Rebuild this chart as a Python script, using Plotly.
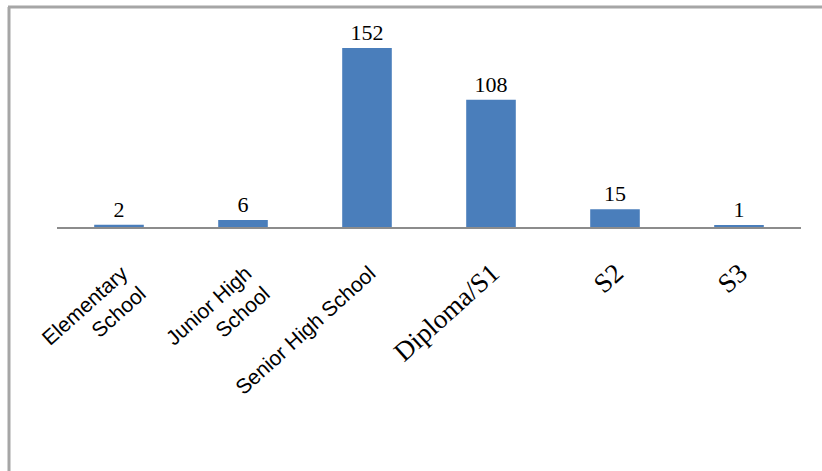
import plotly.graph_objects as go

categories = ["Elementary School", "Junior High School", "Senior High School", "Diploma/S1", "S2", "S3"]
values = [2, 6, 152, 108, 15, 1]
tick_labels = [
    "Elementary<br>School",
    "Junior High<br>School",
    "Senior High School",
    "<span style='font-family:Liberation Serif, Times New Roman, serif;font-size:27px'>Diploma/S1</span>",
    "<span style='font-family:Liberation Serif, Times New Roman, serif;font-size:27px'>S2</span>",
    "<span style='font-family:Liberation Serif, Times New Roman, serif;font-size:27px'>S3</span>",
]

W, H = 822, 471
L, R, T, B = 57, 21, 20, 244
pw, ph = W - L - R, H - T - B

def px2x(px):
    return (px - L) / pw

def py2y(py):
    return (H - B - py) / ph

fig = go.Figure()
fig.add_trace(go.Bar(
    x=categories,
    y=values,
    marker=dict(color="#4a7ebb", line=dict(width=0)),
    text=[str(v) for v in values],
    textposition="outside",
    textfont=dict(family="Liberation Serif, Times New Roman, serif", size=22, color="black"),
    cliponaxis=False,
    width=0.4,
))

fig.update_layout(
    width=W, height=H,
    margin=dict(l=L, r=R, t=T, b=B, autoexpand=False),
    paper_bgcolor="white",
    plot_bgcolor="white",
    showlegend=False,
    xaxis=dict(
        type="category",
        tickmode="array",
        tickvals=categories,
        ticktext=tick_labels,
        tickangle=-42,
        tickfont=dict(family="Liberation Sans, Arial, sans-serif", size=21, color="black"),
        showline=True, linecolor="#8c8c8c", linewidth=2,
        showgrid=False, zeroline=False, ticks="",
        ticklabelstandoff=24,
        ticklabelshift=3,
        automargin=False,
        range=[-0.5, 5.5],
    ),
    yaxis=dict(
        range=[0, 175.7],
        visible=False,
        automargin=False,
        showgrid=False, zeroline=False,
    ),
    shapes=[
        dict(type="line", xref="paper", yref="paper",
             x0=px2x(8), x1=px2x(823), y0=py2y(7), y1=py2y(7),
             line=dict(color="#a6a6a6", width=3)),
        dict(type="line", xref="paper", yref="paper",
             x0=px2x(9), x1=px2x(9), y0=py2y(7), y1=py2y(472),
             line=dict(color="#a6a6a6", width=3)),
    ],
)

fig.write_html(
    "out.html",
    config={"displayModeBar": False},
    post_script="document.body.style.margin='0';document.body.style.overflow='hidden';",
)
